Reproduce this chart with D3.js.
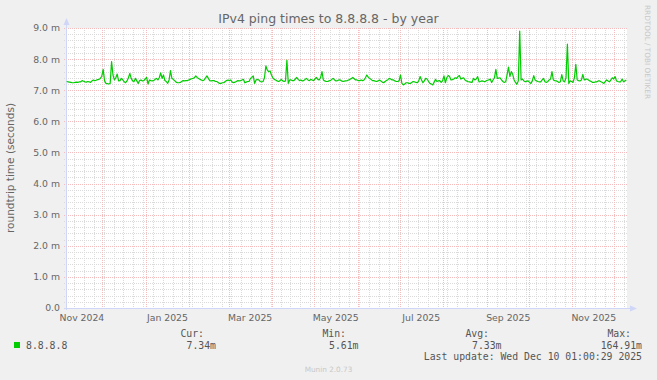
<!DOCTYPE html>
<html>
<head>
<meta charset="utf-8">
<script src="https://cdn.jsdelivr.net/npm/d3@7"></script>
<style>
  body { margin: 0; background: #f0f0f0; }
  svg { display: block; }
</style>
</head>
<body>
<svg id="mainsvg" width="657" height="380"></svg>
<script>
// chart values; one daily average per day, first day = startDay
const startDay = '2024-11-05T01:00:00Z';
const endDay = '2025-12-10T01:00:00Z';
const pingMs = [
  7.28, 7.27, 7.26, 7.25, 7.24, 7.24, 7.25, 7.26, 7.25, 7.27,
  7.27, 7.31, 7.29, 7.27, 7.26, 7.28, 7.27, 7.25, 7.30, 7.33,
  7.31, 7.32, 7.34, 7.35, 7.38, 7.45, 7.67, 7.30, 7.22, 7.21,
  7.20, 7.22, 7.92, 7.49, 7.33, 7.40, 7.52, 7.30, 7.31, 7.38,
  7.33, 7.27, 7.24, 7.30, 7.40, 7.54, 7.38, 7.30, 7.28, 7.38,
  7.30, 7.22, 7.31, 7.33, 7.30, 7.31, 7.36, 7.41, 7.20, 7.33,
  7.31, 7.30, 7.31, 7.35, 7.38, 7.33, 7.40, 7.56, 7.38, 7.49,
  7.31, 7.28, 7.22, 7.33, 7.63, 7.38, 7.35, 7.31, 7.26, 7.24,
  7.24, 7.25, 7.28, 7.31, 7.30, 7.31, 7.31, 7.33, 7.35, 7.37,
  7.38, 7.40, 7.46, 7.41, 7.38, 7.35, 7.33, 7.31, 7.33, 7.40,
  7.46, 7.38, 7.31, 7.30, 7.31, 7.31, 7.28, 7.28, 7.25, 7.22,
  7.22, 7.24, 7.24, 7.28, 7.31, 7.33, 7.31, 7.33, 7.26, 7.24,
  7.26, 7.28, 7.31, 7.30, 7.31, 7.33, 7.35, 7.24, 7.26, 7.28,
  7.28, 7.38, 7.41, 7.46, 7.22, 7.33, 7.35, 7.33, 7.28, 7.27,
  7.28, 7.40, 7.78, 7.65, 7.60, 7.62, 7.49, 7.40, 7.35, 7.33,
  7.30, 7.28, 7.30, 7.35, 7.30, 7.28, 7.30, 7.97, 7.22, 7.33,
  7.33, 7.31, 7.31, 7.36, 7.41, 7.35, 7.31, 7.33, 7.30, 7.31,
  7.35, 7.38, 7.33, 7.31, 7.35, 7.33, 7.31, 7.36, 7.41, 7.35,
  7.33, 7.40, 7.60, 7.33, 7.30, 7.28, 7.28, 7.30, 7.31, 7.35,
  7.38, 7.33, 7.30, 7.31, 7.33, 7.33, 7.30, 7.28, 7.29, 7.30,
  7.31, 7.33, 7.35, 7.38, 7.41, 7.37, 7.33, 7.33, 7.31, 7.31,
  7.33, 7.31, 7.33, 7.40, 7.49, 7.42, 7.38, 7.35, 7.31, 7.31,
  7.29, 7.28, 7.30, 7.33, 7.30, 7.26, 7.24, 7.28, 7.31, 7.34,
  7.38, 7.36, 7.33, 7.33, 7.30, 7.28, 7.28, 7.30, 7.49, 7.22,
  7.17, 7.20, 7.24, 7.24, 7.22, 7.22, 7.25, 7.28, 7.27, 7.25,
  7.24, 7.30, 7.44, 7.33, 7.24, 7.30, 7.38, 7.36, 7.28, 7.22,
  7.20, 7.17, 7.26, 7.35, 7.28, 7.30, 7.31, 7.25, 7.30, 7.46,
  7.24, 7.40, 7.47, 7.44, 7.33, 7.34, 7.36, 7.40, 7.38, 7.44,
  7.47, 7.36, 7.38, 7.40, 7.33, 7.30, 7.28, 7.27, 7.26, 7.25,
  7.38, 7.33, 7.36, 7.44, 7.27, 7.28, 7.30, 7.29, 7.27, 7.30,
  7.32, 7.33, 7.36, 7.25, 7.33, 7.40, 7.67, 7.38, 7.39, 7.40,
  7.33, 7.28, 7.25, 7.27, 7.50, 7.74, 7.44, 7.60, 7.51, 7.33,
  7.25, 7.19, 7.30, 8.90, 7.33, 7.36, 7.30, 7.27, 7.29, 7.30,
  7.25, 7.22, 7.30, 7.47, 7.33, 7.30, 7.28, 7.27, 7.27, 7.33,
  7.38, 7.27, 7.25, 7.28, 7.33, 7.36, 7.60, 7.33, 7.31, 7.30,
  7.28, 7.25, 7.27, 7.50, 7.30, 7.27, 7.40, 8.48, 7.22, 7.30,
  7.28, 7.25, 7.40, 7.83, 7.33, 7.31, 7.30, 7.33, 7.51, 7.33,
  7.35, 7.36, 7.33, 7.30, 7.28, 7.25, 7.25, 7.27, 7.27, 7.30,
  7.30, 7.27, 7.25, 7.22, 7.28, 7.33, 7.30, 7.27, 7.33, 7.40,
  7.36, 7.44, 7.30, 7.28, 7.27, 7.27, 7.36, 7.27, 7.30, 7.33
];
const yTicks = [0, 1, 2, 3, 4, 5, 6, 7, 8, 9];
const labelMonths = ['2024-11-01', '2025-01-01', '2025-03-01', '2025-05-01', '2025-07-01', '2025-09-01', '2025-11-01'];
const seriesName = '8.8.8.8';
const legendHeads = ['Cur:', 'Min:', 'Avg:', 'Max:'];
const legendValues = ['7.34m', '5.61m', '7.33m', '164.91m'];
const titleText = 'IPv4 ping times to 8.8.8.8 - by year';
const yAxisLabel = 'roundtrip time (seconds)';
const lastUpdate = 'Last update: Wed Dec 10 01:00:29 2025';

const svg = d3.select('#mainsvg');
const width = +svg.attr('width');
const margin = { top: 28, left: 66, right: 30, bottom: 72 };
const innerWidth = 561;
const innerHeight = 280;
const x0 = margin.left, y0 = margin.top + innerHeight;

const t0 = new Date(startDay), t1 = new Date(endDay);
const xScale = d3.scaleUtc().domain([t0, t1]).range([x0, x0 + innerWidth]);
const yScale = d3.scaleLinear().domain([0, 9]).range([y0, margin.top]);
const dayMs = 864e5;
const points = pingMs.map((v, i) => ({ t: new Date(+t0 + (i + 0.5) * dayMs), v: v }));

svg.append('rect').attr('width', width).attr('height', 380).attr('fill', '#f0f0f0');
svg.append('rect')
  .attr('x', x0).attr('y', margin.top)
  .attr('width', innerWidth).attr('height', innerHeight)
  .attr('fill', '#ffffff');

const grid = svg.append('g').attr('shape-rendering', 'crispEdges');
const minorCol = '#dadada', majorCol = '#f4bcbc';

// vertical grid: weeks (minor) and months (major)
d3.utcMonday.range(t0, t1).forEach(d => {
  const xx = Math.round(xScale(d)) + 0.5;
  grid.append('line').attr('x1', xx).attr('x2', xx).attr('y1', margin.top).attr('y2', y0 + 2)
    .attr('stroke', minorCol).attr('stroke-dasharray', '1,1');
});
// horizontal minor grid every 0.2
d3.range(0, 45).forEach(k => {
  if (k % 5 === 0) return;
  const yy = Math.round(yScale(k / 5)) + 0.5;
  grid.append('line').attr('x1', x0 - 2).attr('x2', x0 + innerWidth).attr('y1', yy).attr('y2', yy)
    .attr('stroke', minorCol).attr('stroke-dasharray', '1,1');
});
d3.utcMonth.range(t0, t1).forEach(d => {
  const xx = Math.round(xScale(d)) + 0.5;
  grid.append('line').attr('x1', xx).attr('x2', xx).attr('y1', margin.top).attr('y2', y0 + 2)
    .attr('stroke', majorCol).attr('stroke-dasharray', '1,1');
});
yTicks.forEach(v => {
  const yy = Math.round(yScale(v)) + 0.5;
  grid.append('line').attr('x1', x0 - 2).attr('x2', x0 + innerWidth).attr('y1', yy).attr('y2', yy)
    .attr('stroke', majorCol).attr('stroke-dasharray', '1,1');
});

// axes with arrows
const axisCol = '#cfd6f8';
svg.append('line').attr('x1', x0 + 0.5).attr('x2', x0 + 0.5).attr('y1', y0 + 2).attr('y2', margin.top - 4)
  .attr('stroke', axisCol);
svg.append('line').attr('x1', x0 - 2).attr('x2', x0 + innerWidth + 4).attr('y1', y0 + 0.5).attr('y2', y0 + 0.5)
  .attr('stroke', axisCol);
svg.append('path').attr('d', `M${x0 - 2.5},${margin.top - 3} L${x0 + 0.5},${margin.top - 10} L${x0 + 3.5},${margin.top - 3} Z`)
  .attr('fill', axisCol);
svg.append('path').attr('d', `M${x0 + innerWidth + 3},${y0 - 2.5} L${x0 + innerWidth + 10},${y0 + 0.5} L${x0 + innerWidth + 3},${y0 + 3.5} Z`)
  .attr('fill', axisCol);

// y tick labels
const fontCol = '#666666';
const yAxisG = svg.append('g')
  .attr('transform', `translate(${x0 - 6},0)`)
  .call(d3.axisLeft(yScale).tickValues(yTicks).tickSize(0).tickPadding(0)
    .tickFormat(d => d === 0 ? '0.0' : d3.format('.1f')(d) + ' m'))
  .attr('font-family', 'DejaVu Sans').attr('font-size', '9.3px');
yAxisG.select('.domain').remove();
yAxisG.selectAll('text').attr('fill', fontCol);

// x tick labels, centred half a month after month start (rrdtool style)
const labelDates = labelMonths.map(s => new Date(s + 'T00:00:00Z'));
const xAxisG = svg.append('g')
  .attr('transform', `translate(0,${y0 + 6})`)
  .call(d3.axisBottom(xScale).tickValues(labelDates.map(d => new Date(+d + 15 * dayMs)))
    .tickSize(0).tickPadding(0)
    .tickFormat((d, i) => d3.utcFormat('%b %Y')(labelDates[i])))
  .attr('font-family', 'DejaVu Sans').attr('font-size', '9.3px');
xAxisG.select('.domain').remove();
xAxisG.selectAll('text').attr('fill', fontCol);

// line
svg.append('path')
  .datum(points)
  .attr('fill', 'none')
  .attr('stroke', '#00cc00')
  .attr('stroke-width', 1.2)
  .attr('stroke-linejoin', 'round')
  .attr('d', d3.line().x(d => xScale(d.t)).y(d => yScale(d.v)));

// title and y label
svg.append('text').text(titleText)
  .attr('x', width / 2).attr('y', 23)
  .attr('text-anchor', 'middle')
  .attr('font-family', 'DejaVu Sans').attr('font-size', '12.5px').attr('fill', fontCol);
svg.append('text').text(yAxisLabel)
  .attr('transform', `translate(14,${margin.top + innerHeight / 2}) rotate(-90)`)
  .attr('text-anchor', 'middle')
  .attr('font-family', 'DejaVu Sans').attr('font-size', '10.5px').attr('fill', fontCol);

// watermark
svg.append('text').text('RRDTOOL / TOBI OETIKER')
  .attr('transform', 'translate(645,5) rotate(90)')
  .attr('font-family', 'DejaVu Sans').attr('font-size', '7.3px').attr('fill', '#c8c8c8');
svg.append('text').text('Munin 2.0.73')
  .attr('x', width / 2).attr('y', 371.5)
  .attr('text-anchor', 'middle')
  .attr('font-family', 'DejaVu Sans').attr('font-size', '7.3px').attr('fill', '#c8c8c8');

// legend
const mono = 'DejaVu Sans Mono';
const legendCol = '#555555';
svg.append('rect').attr('x', 14).attr('y', 342).attr('width', 6).attr('height', 6).attr('fill', '#00cc00');
svg.append('text').text(seriesName).attr('x', 26).attr('y', 348.5)
  .attr('font-family', mono).attr('font-size', '9.8px').attr('fill', legendCol);
const headRight = [204, 346, 489, 631];
const valRight = [216, 358.5, 501.5, 642];
legendHeads.forEach((h, i) => {
  svg.append('text').text(h).attr('x', headRight[i]).attr('y', 336.5).attr('text-anchor', 'end')
    .attr('font-family', mono).attr('font-size', '9.8px').attr('fill', legendCol);
  svg.append('text').text(legendValues[i]).attr('x', valRight[i]).attr('y', 348.5).attr('text-anchor', 'end')
    .attr('font-family', mono).attr('font-size', '9.8px').attr('fill', legendCol);
});
svg.append('text').text(lastUpdate).attr('x', 642).attr('y', 359.5).attr('text-anchor', 'end')
  .attr('font-family', mono).attr('font-size', '9.8px').attr('fill', legendCol);
</script>
</body>
</html>
